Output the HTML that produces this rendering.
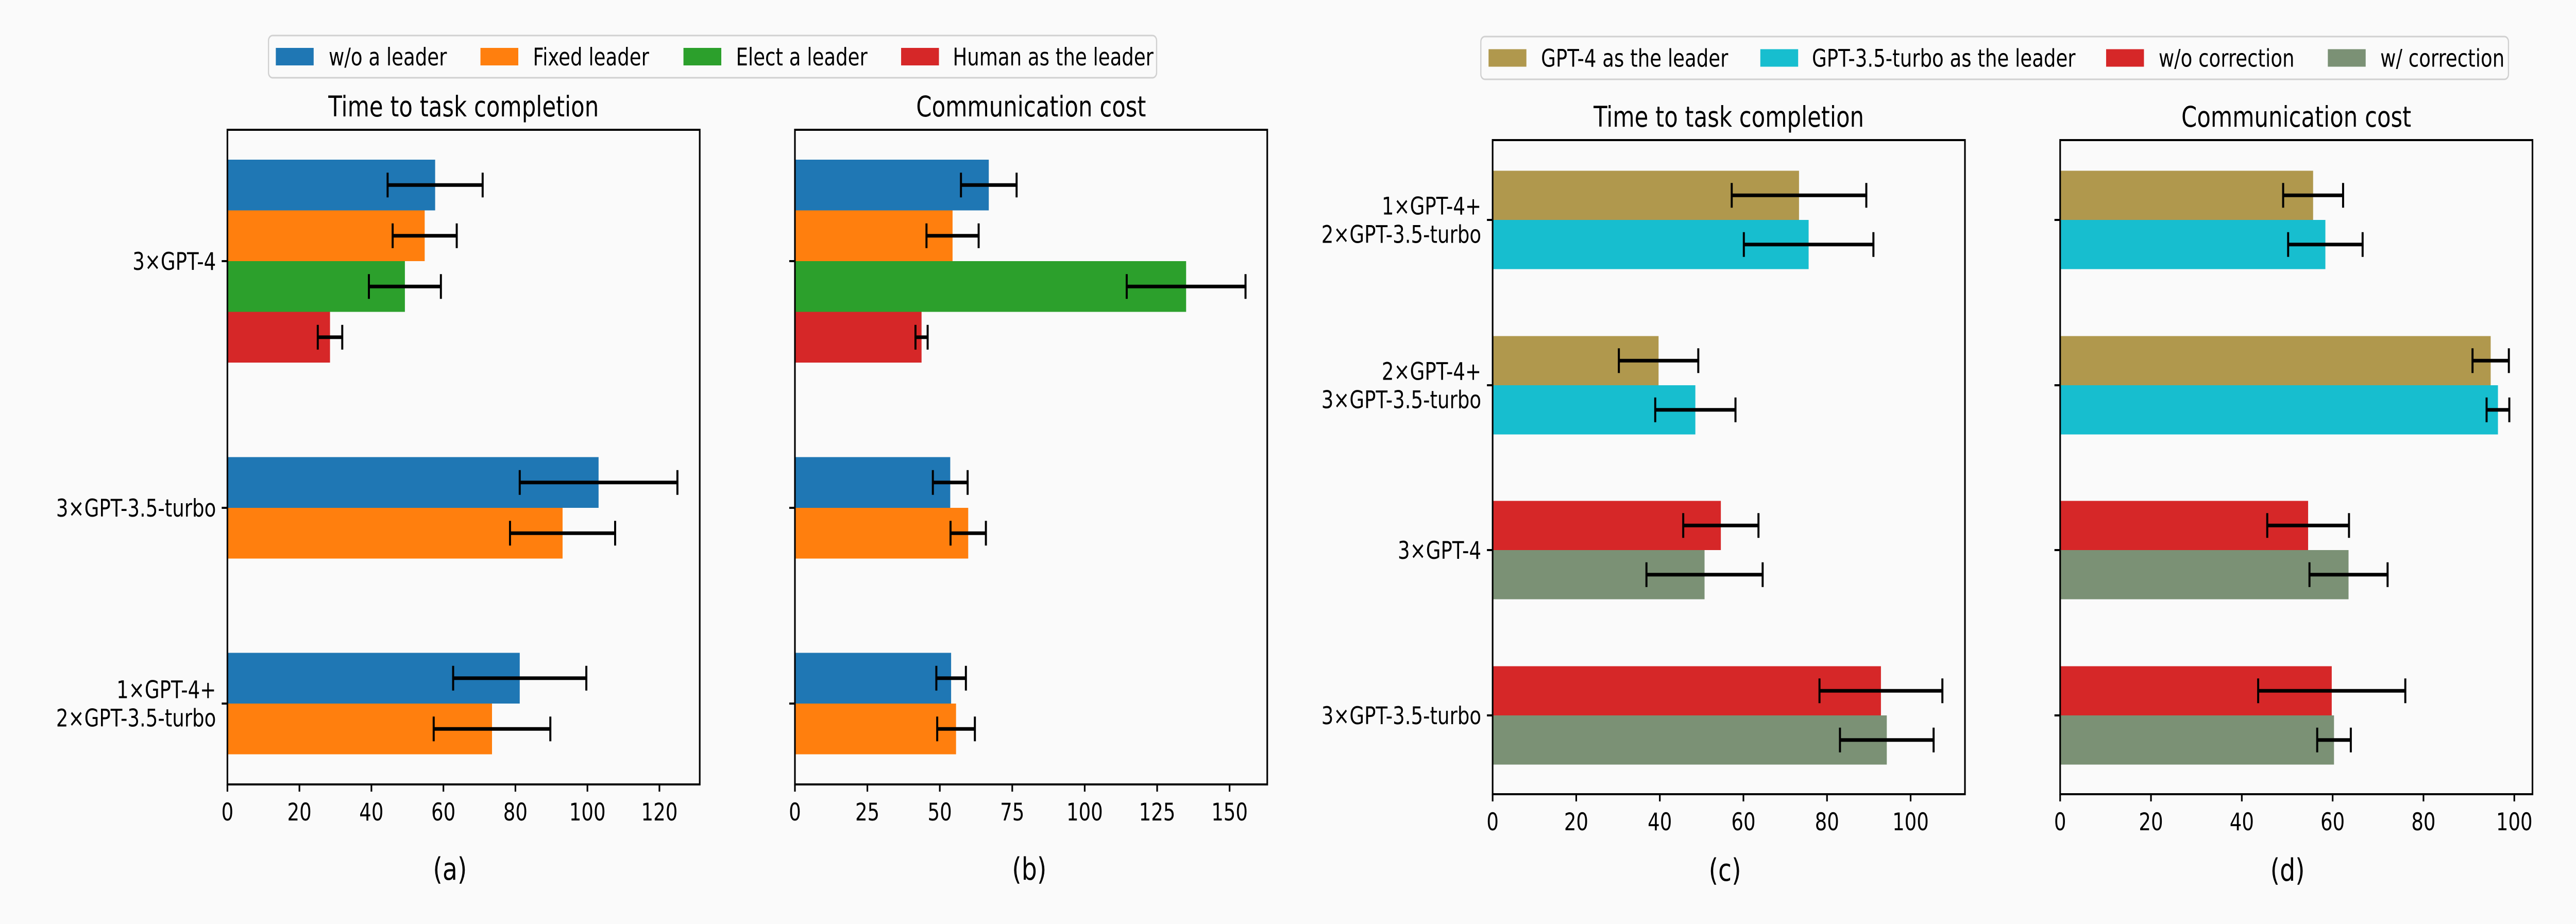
<!DOCTYPE html>
<html><head><meta charset="utf-8">
<style>
html,body{margin:0;padding:0;background:#fafafa;width:100%;height:100%;overflow:hidden;}
svg{display:block;width:100vw;height:100vh;font-family:"DejaVu Sans","Liberation Sans",sans-serif;overflow:hidden;}
</style></head>
<body>
<svg id="fig" viewBox="0 0 6332 1794" preserveAspectRatio="none" xmlns="http://www.w3.org/2000/svg">
<rect x="0" y="0" width="6332" height="1794" fill="#fafafa"/>
</svg>
<script>
// ---- data ----
const catsAB = ["3×GPT-4", "3×GPT-3.5-turbo", "1×GPT-4+\n2×GPT-3.5-turbo"];
const seriesAB = ["w/o a leader", "Fixed leader", "Elect a leader", "Human as the leader"];
const colorsAB = ["#1f77b4", "#ff7f0e", "#2ca02c", "#d62728"];
const timeA = [[57.7, 54.8, 49.3, 28.5], [103.1, 93.1, null, null], [81.2, 73.5, null, null]];
const timeAErr = [[13.2, 8.9, 10.0, 3.4], [21.9, 14.6, null, null], [18.5, 16.2, null, null]];
const commB = [[66.9, 54.4, 135.0, 43.7], [53.6, 59.8, null, null], [53.9, 55.6, null, null]];
const commBErr = [[9.6, 9.0, 20.5, 2.1], [6.0, 6.1, null, null], [5.1, 6.5, null, null]];
const ticksA = [0, 20, 40, 60, 80, 100, 120];
const ticksB = [0, 25, 50, 75, 100, 125, 150];

const catsCD = ["1×GPT-4+\n2×GPT-3.5-turbo", "2×GPT-4+\n3×GPT-3.5-turbo", "3×GPT-4", "3×GPT-3.5-turbo"];
const seriesCD = ["GPT-4 as the leader", "GPT-3.5-turbo as the leader", "w/o correction", "w/ correction"];
const colorsCD = ["#b0984d", "#17becf", "#d62728", "#7b9175"];
const seriesIdxCD = [[0, 1], [0, 1], [2, 3], [2, 3]];
const timeC = [[73.3, 75.6], [39.7, 48.5], [54.6, 50.7], [92.9, 94.3]];
const timeCErr = [[16.1, 15.5], [9.5, 9.6], [9.0, 13.9], [14.7, 11.2]];
const commD = [[55.7, 58.4], [94.8, 96.4], [54.6, 63.5], [59.8, 60.3]];
const commDErr = [[6.6, 8.2], [4.0, 2.5], [9.0, 8.6], [16.2, 3.7]];
const ticksC = [0, 20, 40, 60, 80, 100];
const ticksD = [0, 20, 40, 60, 80, 100];

// ---- drawing ----
const NS = "http://www.w3.org/2000/svg";
const svg = document.getElementById("fig");
function mk(tag, attrs, parent) {
  const e = document.createElementNS(NS, tag);
  for (const k in attrs) e.setAttribute(k, attrs[k]);
  (parent || svg).appendChild(e);
  return e;
}

function panel(p) {
  const g = mk("g", {});
  
  
  const sx = v => p.x0 + (v / p.xmax) * (p.x1 - p.x0);
  p.cats.forEach((c, ci) => {
    const vals = p.values[ci];
    const present = vals.map((v, i) => [v, i]).filter(a => a[0] !== null);
    const n = present.length;
    const cy = p.centers[ci];
    present.forEach(([v, i], k) => {
      const top = cy - n * p.bh / 2 + k * p.bh;
      const si = p.sidx ? p.sidx[ci][i] : i;
      const r = mk("rect", {x: sx(0), y: top, width: sx(v) - sx(0), height: p.bh, fill: p.colors[si]}, g);
      
      
      const e = p.errs[ci][i];
      const ey = top + p.bh / 2;
      const eg = mk("g", {stroke: "#000", "stroke-width": 7}, g);
      
      
      mk("line", {x1: sx(v - e), x2: sx(v + e), y1: ey, y2: ey}, eg);
      mk("line", {x1: sx(v - e), x2: sx(v - e), y1: ey - 24, y2: ey + 24, "stroke-width": 5}, eg);
      mk("line", {x1: sx(v + e), x2: sx(v + e), y1: ey - 24, y2: ey + 24, "stroke-width": 5}, eg);
    });
    const tk = mk("line", {x1: p.x0 - 14, x2: p.x0, y1: cy, y2: cy, stroke: "#000", "stroke-width": 4}, g);
    
    
    const lines = c.split("\n");
    const t = mk("text", {x: p.x0 - 28, y: cy, "text-anchor": "end", "font-size": 47, fill: "#000"}, g);
    
    
    lines.forEach((ln, li) => {
      const ts = mk("tspan", {x: p.x0 - 28, y: cy + 17 + (li - (lines.length - 1) / 2) * 55}, t);
      ts.textContent = ln;
    });
  });
  const fr = mk("rect", {x: p.x0, y: p.y0, width: p.x1 - p.x0, height: p.y1 - p.y0, fill: "none", stroke: "#000", "stroke-width": 4}, g);
  
  
  p.ticks.forEach(tv => {
    const x = sx(tv);
    const l = mk("line", {x1: x, x2: x, y1: p.y1, y2: p.y1 + 14, stroke: "#000", "stroke-width": 4}, g);
    
    
    const t = mk("text", {x: x, y: p.y1 + 70, "text-anchor": "middle", "font-size": 47, fill: "#000"}, g);
    
    
    t.textContent = tv;
  });
  const tt = mk("text", {x: (p.x0 + p.x1) / 2, y: p.y0 - 26, "text-anchor": "middle", "font-size": 55, fill: "#000"}, g);
  
  
  tt.textContent = p.title;
  const lb = mk("text", {x: p.labelX, y: p.labelY, "text-anchor": "middle", "font-size": 60, fill: "#000"}, g);
  
  
  lb.textContent = p.label;
}

function legend(x0, y0, x1, y1, names, colors, patchXs, textXs, name) {
  const g = mk("g", {});
  
  
  mk("rect", {x: x0, y: y0, width: x1 - x0, height: y1 - y0, rx: 10, fill: "#fafafa", stroke: "#d0d0d0", "stroke-width": 3}, g);
  names.forEach((n, i) => {
    const e = mk("g", {}, g);
    
    
    mk("rect", {x: patchXs[i], y: (y0 + y1) / 2 - 17, width: 93, height: 34, fill: colors[i]}, e);
    const t = mk("text", {x: textXs[i], y: (y0 + y1) / 2 + 17, "font-size": 47, fill: "#000"}, e);
    t.textContent = n;
  });
}

legend(660, 69, 2843, 151, seriesAB, colorsAB, [678, 1181, 1680, 2215], [808, 1310, 1809, 2342], "legend-left");
legend(3640, 71, 6166, 154, seriesCD, colorsCD, [3659, 4327, 5177, 5722], [3788, 4454, 5306, 5851], "legend-right");

panel({name: "panel-a", x0: 559, x1: 1720, y0: 252, y1: 1523, xmax: 131.2, cats: catsAB, values: timeA, errs: timeAErr,
  colors: colorsAB, centers: [507, 986, 1366], bh: 98.5, ticks: ticksA, title: "Time to task completion", label: "(a)", labelX: 1106, labelY: 1708});
panel({name: "panel-b", x0: 1954, x1: 3115, y0: 252, y1: 1523, xmax: 163, cats: catsAB.map(() => ""), values: commB, errs: commBErr,
  colors: colorsAB, centers: [507, 986, 1366], bh: 98.5, ticks: ticksB, title: "Communication cost", label: "(b)", labelX: 2530, labelY: 1708});
panel({name: "panel-c", x0: 3669, x1: 4830, y0: 272, y1: 1542, xmax: 113, cats: catsCD, values: timeC, errs: timeCErr, sidx: seriesIdxCD,
  colors: colorsCD, centers: [427, 748, 1068, 1389], bh: 95.5, ticks: ticksC, title: "Time to task completion", label: "(c)", labelX: 4240, labelY: 1710});
panel({name: "panel-d", x0: 5064, x1: 6225, y0: 272, y1: 1542, xmax: 104, cats: catsCD.map(() => ""), values: commD, errs: commDErr, sidx: seriesIdxCD,
  colors: colorsCD, centers: [427, 748, 1068, 1389], bh: 95.5, ticks: ticksD, title: "Communication cost", label: "(d)", labelX: 5623, labelY: 1710});
</script>
</body></html>
